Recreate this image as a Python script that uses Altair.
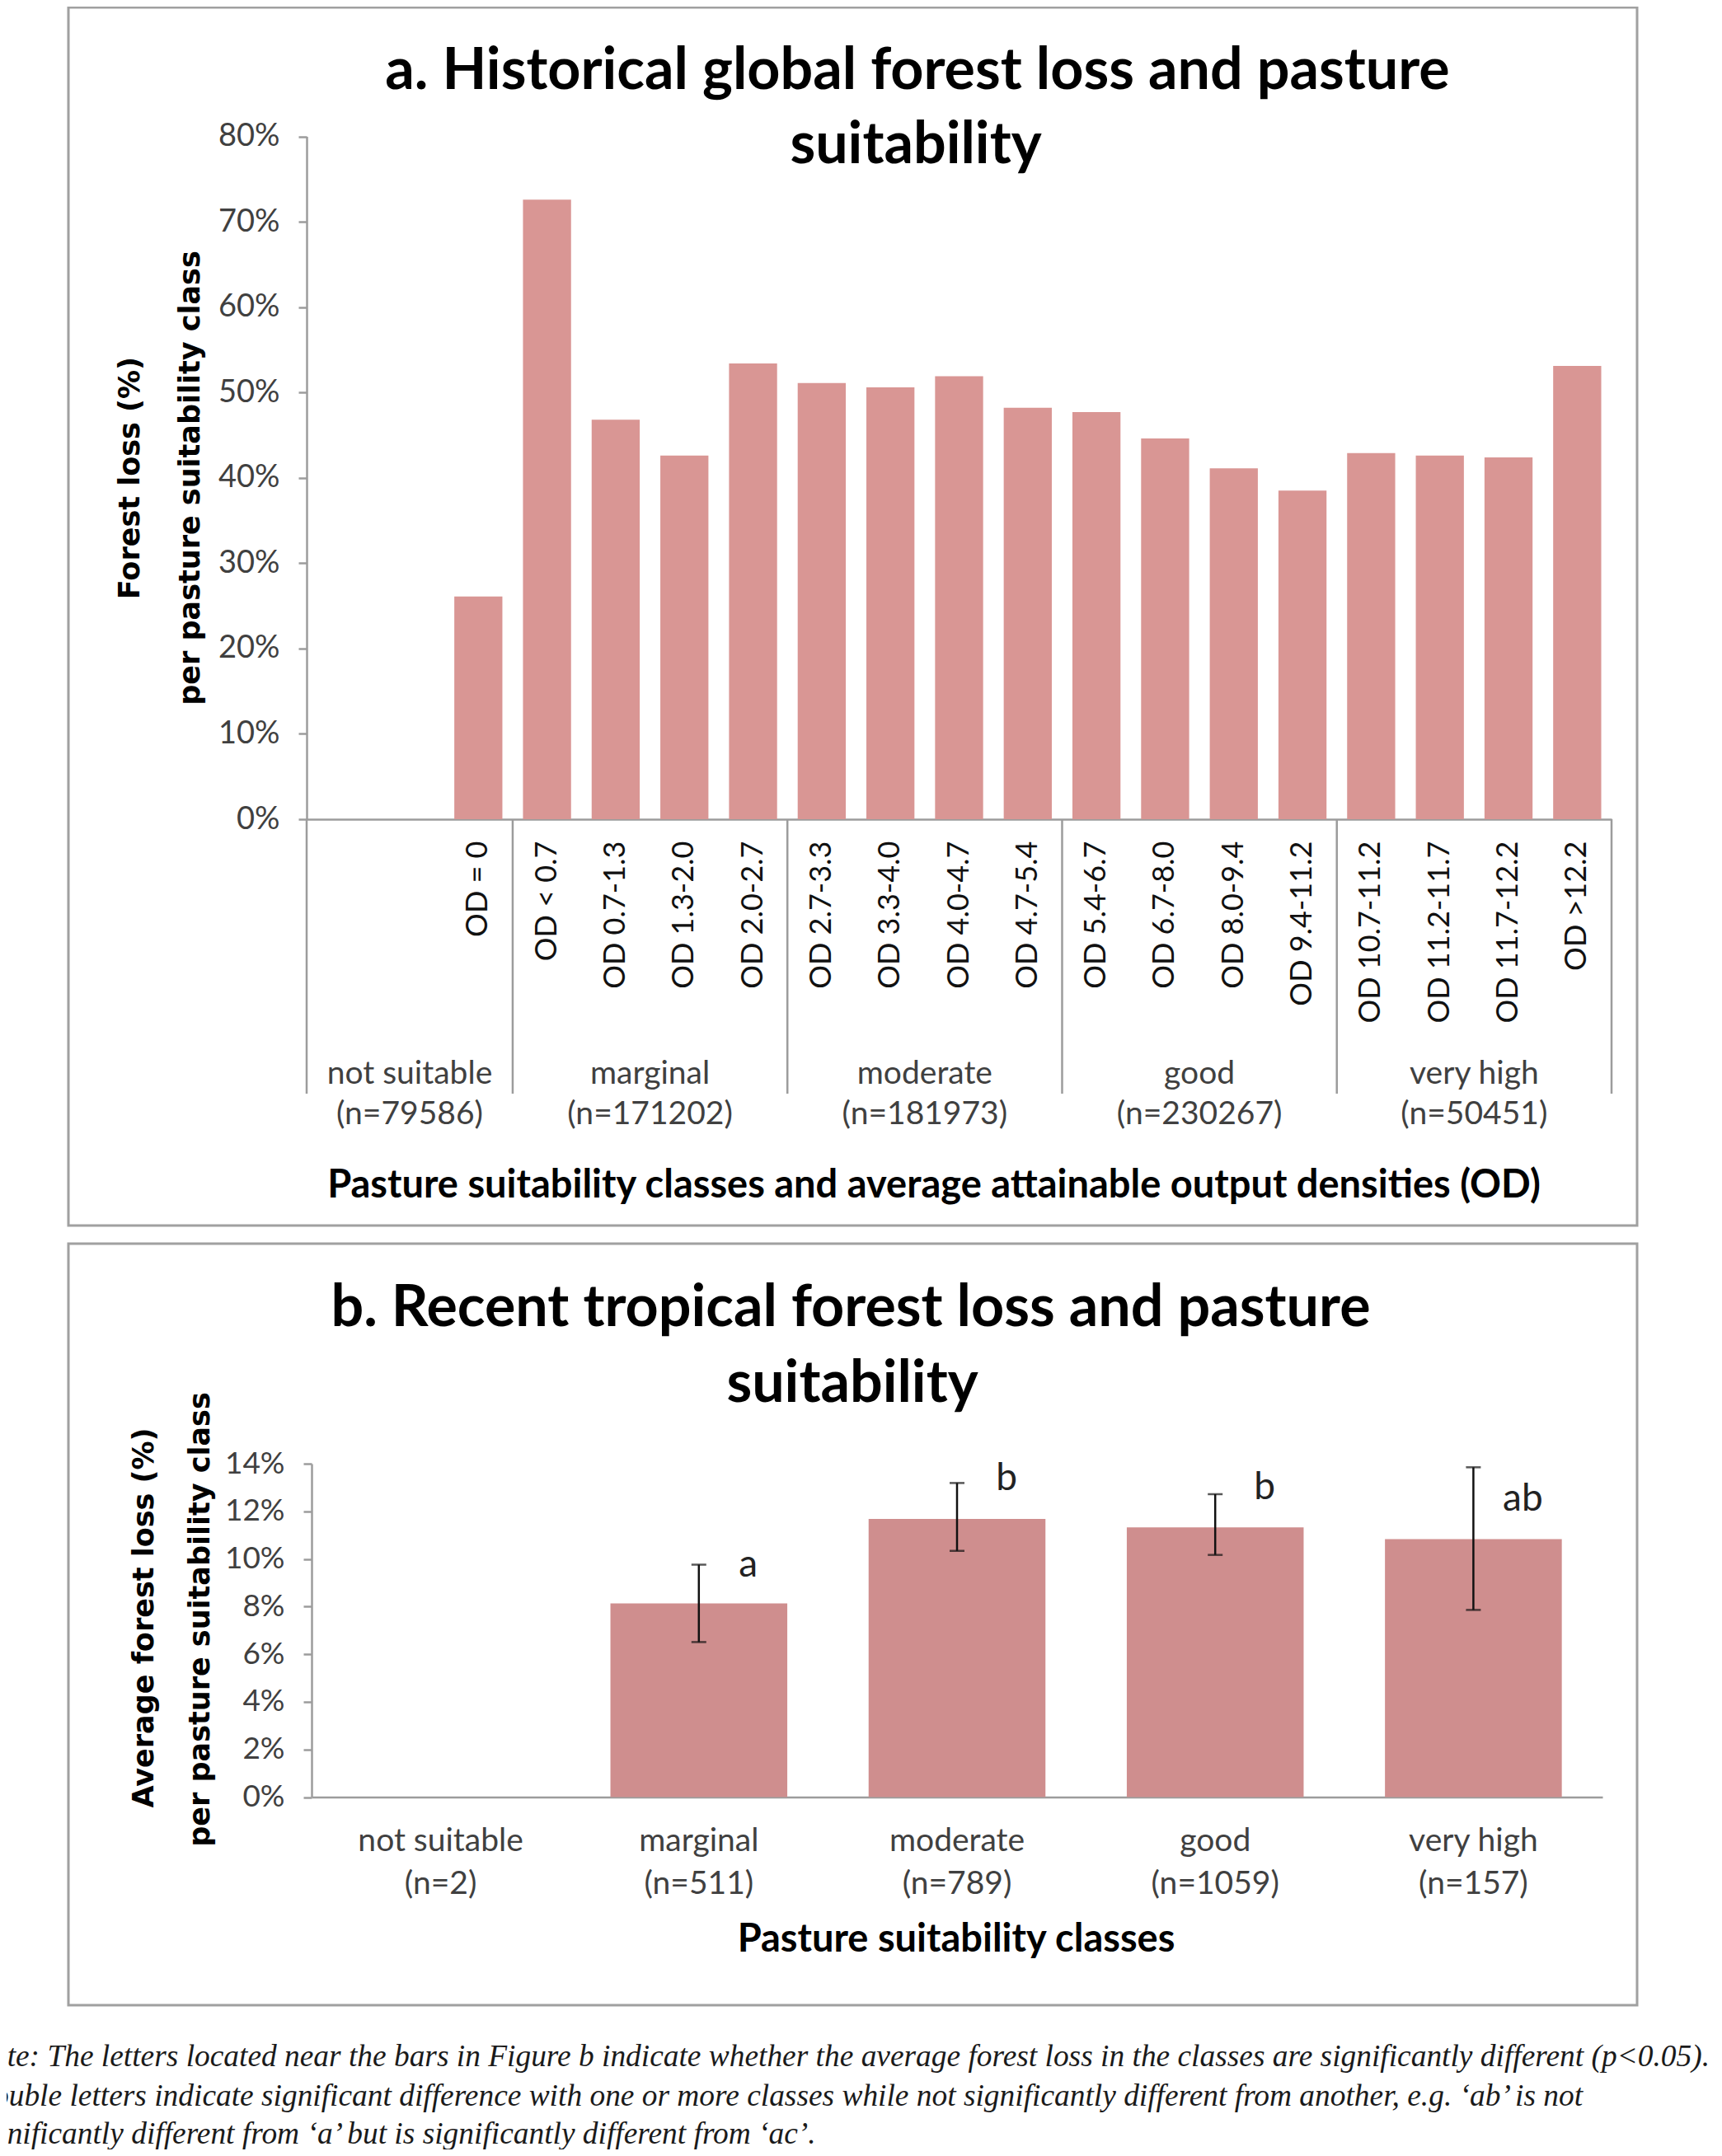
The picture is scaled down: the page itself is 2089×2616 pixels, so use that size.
import altair as alt
import pandas as pd

# ---------------- Panel a: historical global forest loss ----------------
OD_CLASSES = [" ", "  ", "OD = 0", "OD < 0.7", "OD 0.7-1.3", "OD 1.3-2.0", "OD 2.0-2.7",
              "OD 2.7-3.3", "OD 3.3-4.0", "OD 4.0-4.7", "OD 4.7-5.4",
              "OD 5.4-6.7", "OD 6.7-8.0", "OD 8.0-9.4", "OD 9.4-11.2",
              "OD 10.7-11.2", "OD 11.2-11.7", "OD 11.7-12.2", "OD >12.2"]
OD_GROUP = (["not suitable"] * 3 + ["marginal"] * 4 + ["moderate"] * 4
            + ["good"] * 4 + ["very high"] * 4)
FOREST_LOSS_A = [None, None, 0.261, 0.726, 0.468, 0.426, 0.534, 0.511, 0.506, 0.519,
                 0.482, 0.477, 0.446, 0.411, 0.385, 0.429, 0.426, 0.424, 0.531]
SUIT_CLASSES = ["not suitable", "marginal", "moderate", "good", "very high"]
N_A = [79586, 171202, 181973, 230267, 50451]
Y_TICKS_A = [0, 0.1, 0.2, 0.3, 0.4, 0.5, 0.6, 0.7, 0.8]

# ---------------- Panel b: recent tropical forest loss ----------------
N_B = [2, 511, 789, 1059, 157]
AVG_LOSS_B = [0.0, 0.0813, 0.1168, 0.1133, 0.1083]
ERR_HIGH_B = [None, 0.0976, 0.1319, 0.1272, 0.1385]
ERR_LOW_B = [None, 0.0651, 0.1034, 0.1017, 0.0786]
SIG_LETTERS = [None, "a", "b", "b", "ab"]
LETTER_AT = [None, 0.0974, 0.1337, 0.1299, 0.1250]
Y_TICKS_B = [0, 0.02, 0.04, 0.06, 0.08, 0.10, 0.12, 0.14]

TITLE_A = ["a. Historical global forest loss and pasture", "suitability"]
TITLE_B = ["b. Recent tropical forest loss and pasture", "suitability"]
YTITLE_A = ["Forest loss (%)", "per pasture suitability class"]
YTITLE_B = ["Average forest loss (%)", "per pasture suitability class"]
XTITLE_A = "Pasture suitability classes and average attainable output densities (OD)"
XTITLE_B = "Pasture suitability classes"
NOTE = [
    "Note: The letters located near the bars in Figure b indicate whether the average forest loss in the classes are significantly different (p<0.05).",
    "Double letters indicate significant difference with one or more classes while not significantly different from another, e.g. \u2018ab\u2019 is not",
    "significantly different from \u2018a\u2019 but is significantly different from \u2018ac\u2019.",
]

# ---------------- layout / style ----------------
W, H = 2073, 2600
AX = "#9c9c9c"
BAR_A = "#D99694"
BAR_B = "#CF8E8E"
LAB = "#404040"
SANS = "Lato"

# panel a geometry (pixels inside the svg)
A_X0, A_X1, A_Y0, A_Y80 = 364, 1947, 986, 157.5
SLOT_A = (A_X1 - A_X0) / len(OD_CLASSES)
# panel b geometry
B_X0, B_X1, B_Y0, B_Y14 = 370, 1936, 2172.5, 1768

xa = alt.Scale(domain=OD_CLASSES, range=[A_X0, A_X1], paddingInner=0, paddingOuter=0)
ya = alt.Scale(domain=[0, 0.8], range=[A_Y0, A_Y80], nice=False, zero=True)

dfa = pd.DataFrame({"od": OD_CLASSES, "group": OD_GROUP, "loss": FOREST_LOSS_A})

bars_a = alt.Chart(dfa).mark_bar(color=BAR_A, width=alt.RelativeBandSize(0.7)).encode(
    x=alt.X("od:N", scale=xa, sort=None,
            axis=alt.Axis(orient="bottom", offset=A_Y0 - H, title=None, ticks=False, tickSize=0,
                          labelAngle=270, labelAlign="right", labelBaseline="middle",
                          labelPadding=26, labelFont=SANS, labelFontSize=36, labelColor="#111111",
                          labelLimit=500, labelOverlap=False, domainColor=AX, domainWidth=2.5,
                          grid=False)),
    y=alt.Y("loss:Q", scale=ya,
            axis=alt.Axis(orient="left", offset=-A_X0, title=None, values=Y_TICKS_A, format=".0%",
                          tickSize=10, tickColor=AX, tickWidth=2.5, labelPadding=23,
                          labelFont=SANS, labelFontSize=38, labelColor=LAB,
                          domainColor=AX, domainWidth=2.5, grid=False)),
)

# group divider lines (multi-level category axis)
group_starts = [OD_CLASSES[i] for i in range(len(OD_CLASSES))
                if i == 0 or OD_GROUP[i] != OD_GROUP[i - 1]]
div_a = alt.Chart(pd.DataFrame({"od": group_starts})).mark_rule(color=AX, strokeWidth=2.5).encode(
    x=alt.X("od:N", scale=xa, bandPosition=0, axis=None),
    y=alt.value(A_Y0), y2=alt.value(1319))
div_end = alt.Chart(pd.DataFrame({"od": [OD_CLASSES[-1]]})).mark_rule(color=AX, strokeWidth=2.5).encode(
    x=alt.X("od:N", scale=xa, bandPosition=1, axis=None),
    y=alt.value(A_Y0), y2=alt.value(1319))

# group labels, centred under their group of categories
rows = []
for g, n in zip(SUIT_CLASSES, N_A):
    cats = [c for c, gg in zip(OD_CLASSES, OD_GROUP) if gg == g]
    rows.append({"od": cats[len(cats) // 2], "label": f"{g}\n(n={n})", "odd": len(cats) % 2 == 1})
dfg = pd.DataFrame(rows)


def group_text(odd, shift):
    return alt.Chart(dfg[dfg.odd == odd]).mark_text(
        lineBreak="\n", baseline="top", align="center", font=SANS, fontSize=39,
        lineHeight=49, color=LAB, dx=shift).encode(
        x=alt.X("od:N", scale=xa, axis=None),
        y=alt.value(1276), text="label:N")


glab_odd = group_text(True, 0)
glab_even = group_text(False, -SLOT_A / 2)

# ---------------- panel b ----------------
dfb = pd.DataFrame({"cls": SUIT_CLASSES, "n": N_B, "loss": AVG_LOSS_B, "hi": ERR_HIGH_B,
                    "lo": ERR_LOW_B, "letter": SIG_LETTERS, "lpos": LETTER_AT})
dfb["label"] = [f"{c}\n(n={n})" for c, n in zip(SUIT_CLASSES, N_B)]

xb = alt.Scale(domain=list(dfb["label"]), range=[B_X0, B_X1], paddingInner=0, paddingOuter=0)
yb = alt.Scale(domain=[0, 0.14], range=[B_Y0, B_Y14], nice=False, zero=True)

bars_b = alt.Chart(dfb).mark_bar(color=BAR_B, width=alt.RelativeBandSize(0.685)).encode(
    x=alt.X("label:N", scale=xb, sort=None,
            axis=alt.Axis(orient="bottom", offset=B_Y0 - H, title=None, ticks=False, tickSize=0,
                          labelAngle=0, labelAlign="center", labelBaseline="top",
                          labelExpr="split(datum.label, '\\n')", labelLineHeight=52,
                          labelPadding=34, labelFont=SANS, labelFontSize=39, labelColor=LAB,
                          labelLimit=500, labelOverlap=False, domainColor=AX, domainWidth=2.5,
                          grid=False)),
    y=alt.Y("loss:Q", scale=yb,
            axis=alt.Axis(orient="left", offset=-B_X0, title=None, values=Y_TICKS_B, format=".0%",
                          tickSize=10, tickColor=AX, tickWidth=2.5, labelPadding=23,
                          labelFont=SANS, labelFontSize=37, labelColor=LAB,
                          domainColor=AX, domainWidth=2.5, grid=False)),
)

err_b = alt.Chart(dfb).transform_filter("isValid(datum.hi)").mark_rule(
    color="#111111", strokeWidth=2.5).encode(
    x=alt.X("label:N", scale=xb, axis=None),
    y=alt.Y("lo:Q", scale=yb, axis=None), y2="hi:Q")
caps_b = alt.Chart(dfb).transform_filter("isValid(datum.hi)").transform_fold(
    ["hi", "lo"], as_=["end", "v"]).mark_tick(
    color="#111111", thickness=2.5, size=18, orient="horizontal").encode(
    x=alt.X("label:N", scale=xb, axis=None),
    y=alt.Y("v:Q", scale=yb, axis=None))
letters_b = alt.Chart(dfb).transform_filter("isValid(datum.letter)").mark_text(
    dx=60, font=SANS, fontSize=46, color="#222222", baseline="middle").encode(
    x=alt.X("label:N", scale=xb, axis=None),
    y=alt.Y("lpos:Q", scale=yb, axis=None), text="letter:N")


# ---------------- text helpers ----------------
def txt(s, x, y, **kw):
    return alt.Chart(pd.DataFrame({"t": [s]})).mark_text(**kw).encode(
        text="t:N", x=alt.value(x), y=alt.value(y))


def frame(x0, x1, y0, y1):
    return alt.Chart(pd.DataFrame({"f": [1]})).mark_rect(
        fillOpacity=0, stroke="#a0a0a0", strokeWidth=3).encode(
        x=alt.value(x0), x2=alt.value(x1), y=alt.value(y0), y2=alt.value(y1))


TSTY = dict(font=SANS, fontWeight="bold", fontSize=70, color="black", align="center", baseline="middle")
XSTY = dict(font=SANS, fontWeight="bold", fontSize=47, color="black", align="center", baseline="middle")
YSTY = dict(font="DejaVu Sans", fontWeight="bold", fontSize=35, color="black", align="center",
            baseline="middle", angle=270)
NSTY = dict(font="Liberation Serif", fontStyle="italic", fontSize=37.4, color="#1a1a1a",
            align="left", baseline="middle")

layers = [
    frame(75, 1978, 1, 1479),
    frame(75, 1978, 1501, 2425),
    bars_a, div_a, div_end, glab_odd, glab_even,
    txt(TITLE_A[0], 1105, 79, **TSTY),
    txt(TITLE_A[1], 1103, 169, **TSTY),
    txt(YTITLE_A[0], 150, 572, **YSTY),
    txt(YTITLE_A[1], 223, 572, **YSTY),
    txt(XTITLE_A, 1125, 1431, **XSTY),
    bars_b, err_b, caps_b, letters_b,
    txt(TITLE_B[0], 1024, 1580, **TSTY),
    txt(TITLE_B[1], 1026, 1672, **TSTY),
    txt(YTITLE_B[0], 167, 1955, **YSTY),
    txt(YTITLE_B[1], 235, 1957, **YSTY),
    txt(XTITLE_B, 1152, 2346, **XSTY),
    txt(NOTE[0], -43, 2488, **NSTY),
    txt(NOTE[1], -43, 2536, **NSTY),
    txt(NOTE[2], -43, 2582, **NSTY),
]

chart = alt.layer(*layers).resolve_scale(
    x="independent", y="independent").resolve_axis(
    x="independent", y="independent").properties(
    width=W, height=H, padding=0, autosize=alt.AutoSizeParams(type="none")
).configure_view(stroke=None)

chart.save("out.html", embed_options={"renderer": "svg", "actions": False})
